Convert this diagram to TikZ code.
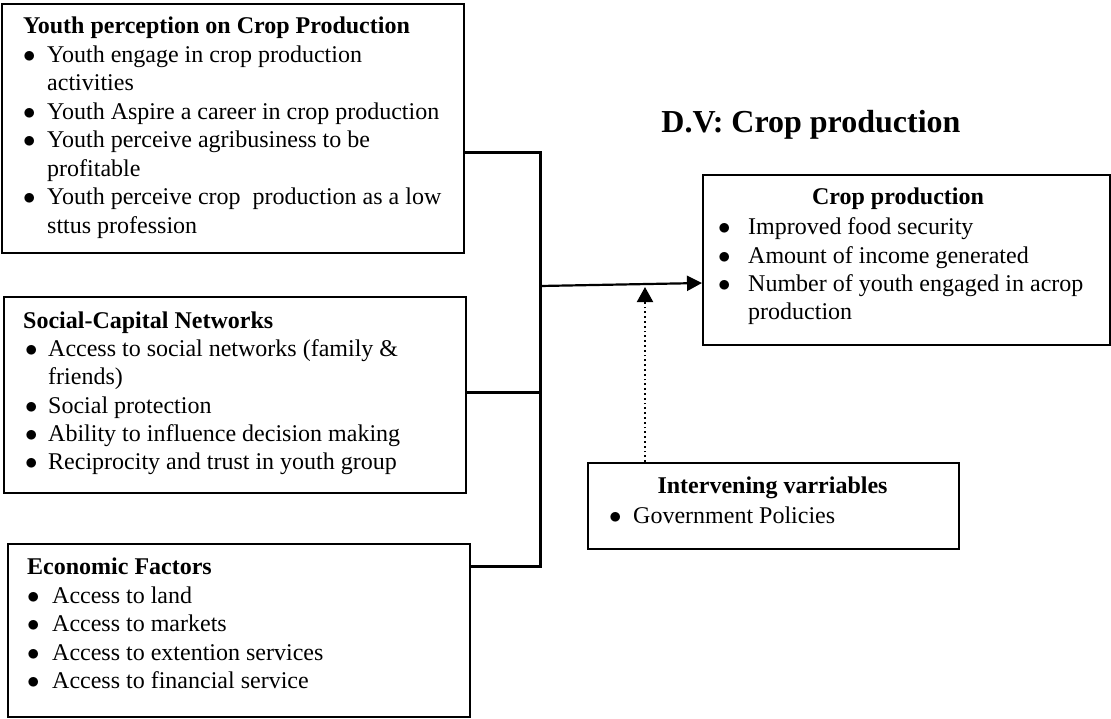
\documentclass[tikz,border=0pt]{standalone}
\usepackage{fontspec}
\setmainfont{Liberation Serif}
\usetikzlibrary{arrows.meta}
\newcommand\bul[1]{\makebox[#1][l]{$\bullet$}}
\begin{document}
\begin{tikzpicture}[x=1pt,y=1pt,
  box/.style={draw, line width=1.5pt, anchor=north west, inner sep=0pt},
  txt/.style={anchor=base west, inner sep=0pt, font=\fontsize{24}{28}\selectfont},
  ttl/.style={txt, font=\fontsize{24}{28}\selectfont\bfseries},
  cttl/.style={anchor=base, inner sep=0pt, font=\fontsize{24}{28}\selectfont\bfseries},
  bigttl/.style={anchor=base, inner sep=0pt, font=\fontsize{32}{38}\selectfont\bfseries},
  bracket/.style={line width=3pt},
  mainarrow/.style={line width=2.2pt, -{Triangle[length=15pt,width=15pt]}},
  dotarrow/.style={line width=2pt, dash pattern=on 1.8pt off 3pt, -{Triangle[length=15pt,width=16pt]}}
]
\useasboundingbox (0,0) rectangle (1111,-718);

% boxes
\node[box, minimum width=462pt, minimum height=249pt] (b1) at (1,-3) {};
\node[box, minimum width=462pt, minimum height=196pt] (b2) at (3,-296) {};
\node[box, minimum width=462pt, minimum height=173pt] (b3) at (7,-543) {};
\node[box, minimum width=407pt, minimum height=170pt] (cp) at (702,-174) {};
\node[box, minimum width=371pt, minimum height=86pt] (iv) at (587,-462) {};

% box 1
\node[ttl] (b1h) at (23,-33) {Youth perception on Crop Production};
\node[txt] (b1a) at (23,-62) {\bul{24pt}Youth engage in crop production};
\node[txt] (b1b) at (47,-90.5) {activities};
\node[txt] (b1c) at (23,-119) {\bul{24pt}Youth Aspire a career in crop production};
\node[txt] (b1d) at (23,-147.5) {\bul{24pt}Youth perceive agribusiness to be};
\node[txt] (b1e) at (47,-176) {profitable};
\node[txt] (b1f) at (23,-204.5) {\bul{24pt}Youth perceive crop~ production as a low};
\node[txt] (b1g) at (47,-233) {sttus profession};

% box 2
\node[ttl] (b2h) at (23,-328) {Social-Capital Networks};
\node[txt] (b2a) at (25,-356) {\bul{23pt}Access to social networks (family \&};
\node[txt] (b2b) at (48,-384) {friends)};
\node[txt] (b2c) at (25,-413) {\bul{23pt}Social protection};
\node[txt] (b2d) at (25,-441) {\bul{23pt}Ability to influence decision making};
\node[txt] (b2e) at (25,-469) {\bul{23pt}Reciprocity and trust in youth group};

% box 3
\node[ttl] (b3h) at (27,-574) {Economic Factors};
\node[txt] (b3a) at (27,-603) {\bul{25pt}Access to land};
\node[txt] (b3b) at (27,-631) {\bul{25pt}Access to markets};
\node[txt] (b3c) at (27,-660) {\bul{25pt}Access to extention services};
\node[txt] (b3d) at (27,-688) {\bul{25pt}Access to financial service};

% crop production box
\node[bigttl] (dv) at (811,-132) {D.V: Crop production};
\node[cttl] (cph) at (898,-204) {Crop production};
\node[txt] (cpa) at (718,-234) {\bul{30pt}Improved food security};
\node[txt] (cpb) at (718,-263) {\bul{30pt}Amount of income generated};
\node[txt] (cpc) at (718,-291) {\bul{30pt}Number of youth engaged in acrop};
\node[txt] (cpd) at (748,-319) {production};

% intervening box
\node[cttl] (ivh) at (772.5,-493) {Intervening varriables};
\node[txt] (iva) at (609,-523) {\bul{24pt}Government Policies};

% connectors
\coordinate (j1) at (540,-152);
\coordinate (j2) at (540,-392);
\coordinate (j3) at (540,-566);
\coordinate (jm) at (540,-286);
\coordinate (ae) at (702,-283);
\coordinate (dx) at (645,-287);
\draw[bracket] (b1.east |- j1) -- (j1) -- (j3) -- (b3.east |- j3);
\draw[bracket] (b2.east |- j2) -- (j2);
\draw[mainarrow] (jm) -- (cp.west |- ae);
\draw[dotarrow] (iv.north -| dx) -- (dx);
\end{tikzpicture}
\end{document}
